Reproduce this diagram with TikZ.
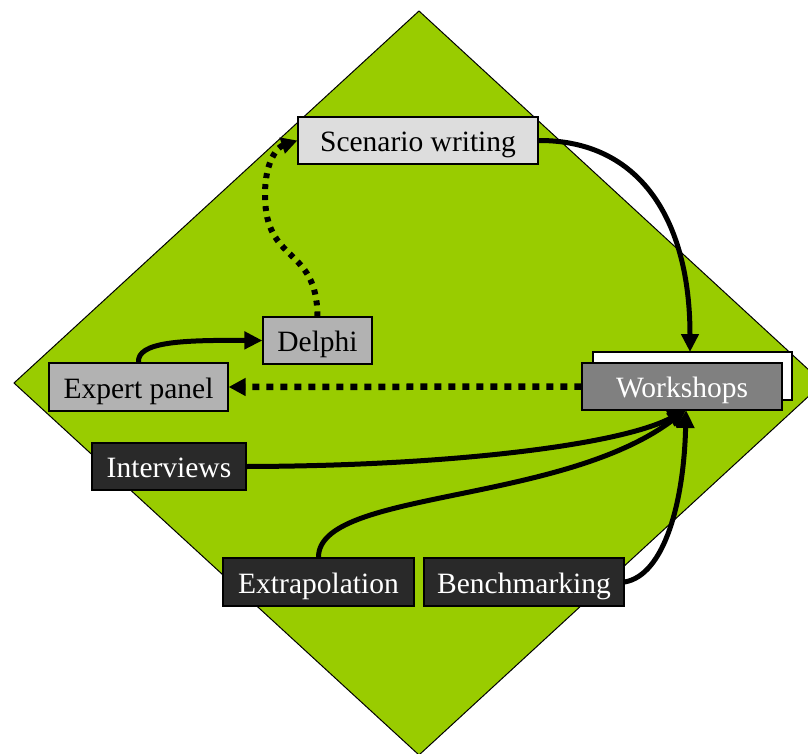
\documentclass[tikz,border=0pt]{standalone}
\usepackage{fontspec}
\setmainfont{Liberation Serif}
\usetikzlibrary{arrows.meta}
\definecolor{diamondgreen}{HTML}{99CC00}
\definecolor{lightbox}{HTML}{DDDDDD}
\definecolor{midbox}{HTML}{B2B2B2}
\definecolor{greybox}{HTML}{808080}
\definecolor{darkbox}{HTML}{292929}
\tikzset{
  box/.style={draw=black, line width=1.2pt, rectangle, inner sep=0pt,
    text height=24pt, text depth=2pt,
    font=\fontsize{29.5}{34}\selectfont},
  lightnode/.style={box, fill=lightbox, text=black},
  midnode/.style={box, fill=midbox, text=black},
  greynode/.style={box, fill=greybox, text=white},
  darknode/.style={box, fill=darkbox, text=white},
  solidarrow/.style={line width=5pt, -{Triangle[length=18pt,width=17pt]}},
  dotarrowv/.style={line width=6pt, dash pattern=on 5pt off 6pt, -{Triangle[length=16pt,width=16pt]}},
  dotarrowh/.style={line width=6.5pt, dash pattern=on 7pt off 7pt, -{Triangle[length=17pt,width=17pt]}},
}
\begin{document}
\begin{tikzpicture}[x=1pt,y=-1pt]
\useasboundingbox (0,0) rectangle (808,754);
\begin{scope}
\clip (0,0) rectangle (808,754);
\draw[fill=diamondgreen, line width=1pt] (419,11) -- (823,383) -- (419,755) -- (14,383) -- cycle;
\end{scope}

\node[box, fill=white, minimum width=199pt, minimum height=48pt] (shadow) at (692.5,376) {};

\node[lightnode, minimum width=240pt, minimum height=47pt] (scen) at (418,140.5) {Scenario writing};
\node[midnode, minimum width=109pt, minimum height=47pt] (delphi) at (317.5,340.5) {Delphi};
\node[midnode, minimum width=179pt, minimum height=48pt] (expert) at (138.5,387) {Expert panel};
\node[greynode, minimum width=200pt, minimum height=47pt] (work) at (682,386.5) {Workshops};
\node[darknode, minimum width=154pt, minimum height=47pt] (interv) at (169,466.5) {Interviews};
\node[darknode, minimum width=191pt, minimum height=48pt] (extrap) at (318.5,582) {Extrapolation};
\node[darknode, minimum width=200pt, minimum height=48pt] (bench) at (524,582) {Benchmarking};

\coordinate (wtop) at (690,352);
\coordinate (wbot) at (686,410);

\draw[solidarrow] (scen.east) .. controls (640,140) and (690,220) .. (wtop);
\draw[dotarrowv] (delphi.north) .. controls (317,245) and (265,265) .. (265,195) .. controls (265,160) and (278,147) .. (scen.west);
\draw[solidarrow] (expert.north) .. controls (137,342) and (180,340) .. (delphi.west);
\draw[dotarrowh] (work.west) -- (expert.east);
\draw[solidarrow] (interv.east) .. controls (450,466) and (620,445) .. (wbot);
\draw[solidarrow] (extrap.north) .. controls (318,490) and (560,505) .. (wbot);
\draw[solidarrow] (bench.east) .. controls (665,575) and (684,500) .. (wbot);
\end{tikzpicture}
\end{document}
